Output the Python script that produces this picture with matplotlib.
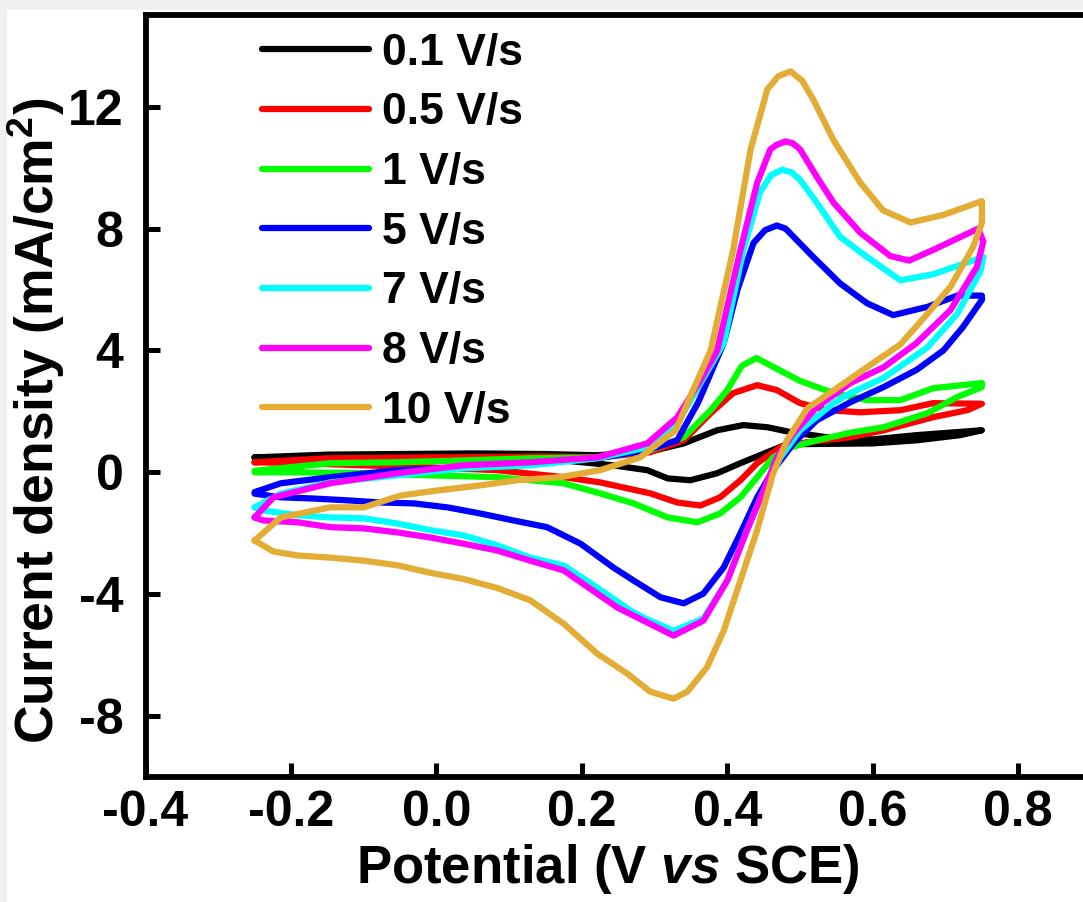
import numpy as np
import matplotlib
matplotlib.use("Agg")
import matplotlib.pyplot as plt

plt.rcParams['font.family'] = ['Liberation Sans', 'DejaVu Sans']
plt.rcParams['font.weight'] = 'bold'
plt.rcParams['axes.unicode_minus'] = False
plt.rcParams['mathtext.fontset'] = 'custom'
plt.rcParams['mathtext.rm'] = 'Liberation Sans:bold'
plt.rcParams['mathtext.bf'] = 'Liberation Sans:bold'
plt.rcParams['mathtext.it'] = 'Liberation Sans:bold:italic'

# scan rates (legend labels)
labels = ["0.1 V/s", "0.5 V/s", "1 V/s", "5 V/s", "7 V/s", "8 V/s", "10 V/s"]
colors = ["#000000", "#ff0000", "#00ff00", "#0000ff", "#00ffff", "#ff00ff", "#e3ac35"]

# 0.1 V/s : forward (anodic) then reverse (cathodic) branch
E_01_f = [-0.25, -0.15, -0.05, 0.05, 0.15, 0.22, 0.29, 0.34, 0.386, 0.422, 0.455, 0.487, 0.546, 0.6, 0.66, 0.75]
j_01_f = [0.49, 0.58, 0.6, 0.62, 0.6, 0.56, 0.66, 0.95, 1.38, 1.55, 1.48, 1.32, 1.12, 1.08, 1.22, 1.38]
E_01_r = [0.72, 0.66, 0.6, 0.52, 0.482, 0.455, 0.418, 0.386, 0.349, 0.318, 0.29, 0.243, 0.175, 0.05, -0.1, -0.25]
j_01_r = [1.22, 1.05, 0.95, 0.93, 0.92, 0.66, 0.3, -0.03, -0.26, -0.2, 0.07, 0.23, 0.39, 0.49, 0.49, 0.49]

# 0.5 V/s
E_05_f = [-0.25, -0.15, -0.05, 0.05, 0.15, 0.225, 0.294, 0.34, 0.377, 0.408, 0.441, 0.468, 0.5, 0.537, 0.583, 0.638, 0.683, 0.75]
j_05_f = [0.33, 0.46, 0.48, 0.5, 0.52, 0.49, 0.66, 1.05, 1.94, 2.6, 2.86, 2.7, 2.27, 2.04, 1.97, 2.04, 2.27, 2.25]
E_05_r = [0.73, 0.683, 0.615, 0.569, 0.51, 0.473, 0.441, 0.418, 0.39, 0.363, 0.331, 0.294, 0.225, 0.175, 0.084, -0.008, -0.1, -0.191, -0.25]
j_05_r = [2.04, 1.81, 1.38, 1.15, 0.99, 0.82, 0.3, -0.26, -0.82, -1.09, -0.99, -0.69, -0.33, -0.16, 0.07, 0.16, 0.23, 0.3, 0.33]

# 1 V/s
E_1_f = [-0.25, -0.146, -0.054, 0.037, 0.129, 0.225, 0.294, 0.34, 0.377, 0.4, 0.42, 0.44, 0.46, 0.5, 0.546, 0.592, 0.638, 0.683, 0.75]
j_1_f = [0.05, 0.3, 0.33, 0.39, 0.46, 0.49, 0.72, 1.15, 2.04, 2.7, 3.5, 3.75, 3.5, 3.0, 2.6, 2.37, 2.37, 2.76, 2.93]
E_1_r = [0.75, 0.716, 0.675, 0.615, 0.569, 0.523, 0.487, 0.463, 0.441, 0.418, 0.39, 0.359, 0.318, 0.271, 0.225, 0.175, 0.129, 0.084, -0.008, -0.1, -0.191, -0.25]
j_1_r = [2.8, 2.47, 1.94, 1.48, 1.3, 1.05, 0.82, 0.49, -0.16, -0.82, -1.35, -1.64, -1.48, -1.02, -0.69, -0.36, -0.26, -0.16, -0.1, -0.03, 0.0, 0.0]

# 5 V/s
E_5_f = [-0.25, -0.214, -0.146, -0.054, 0.037, 0.129, 0.221, 0.29, 0.331, 0.36, 0.395, 0.414, 0.436, 0.452, 0.468, 0.48, 0.491, 0.518, 0.555, 0.592, 0.628, 0.675, 0.716, 0.75]
j_5_f = [-0.65, -0.36, -0.16, 0.07, 0.16, 0.3, 0.46, 0.72, 1.05, 2.3, 4.24, 6.0, 7.53, 7.95, 8.1, 8.0, 7.73, 7.07, 6.2, 5.55, 5.16, 5.43, 5.8, 5.8]
E_5_r = [0.75, 0.724, 0.697, 0.66, 0.615, 0.569, 0.523, 0.491, 0.463, 0.441, 0.418, 0.395, 0.367, 0.34, 0.308, 0.271, 0.243, 0.198, 0.152, 0.106, 0.06, 0.015, -0.031, -0.077, -0.122, -0.169, -0.214, -0.25]
j_5_r = [5.66, 4.77, 4.0, 3.36, 2.8, 2.3, 1.71, 0.95, 0.07, -0.82, -2.0, -3.12, -3.98, -4.3, -4.1, -3.55, -3.12, -2.34, -1.8, -1.58, -1.35, -1.15, -1.02, -0.99, -0.92, -0.86, -0.82, -0.7]

# 7 V/s
E_7_f = [-0.25, -0.214, -0.146, -0.054, 0.037, 0.129, 0.221, 0.29, 0.331, 0.36, 0.395, 0.422, 0.445, 0.46, 0.475, 0.488, 0.5, 0.523, 0.555, 0.592, 0.638, 0.683, 0.752]
j_7_f = [-1.15, -0.7, -0.33, -0.1, 0.13, 0.23, 0.46, 0.82, 1.6, 2.8, 4.24, 7.3, 9.2, 9.75, 9.93, 9.85, 9.6, 8.85, 7.73, 7.07, 6.3, 6.5, 7.07]
E_7_r = [0.748, 0.716, 0.675, 0.615, 0.569, 0.546, 0.5, 0.473, 0.45, 0.427, 0.4, 0.367, 0.326, 0.285, 0.267, 0.221, 0.175, 0.129, 0.084, 0.037, -0.008, -0.054, -0.1, -0.146, -0.191, -0.238, -0.25]
j_7_r = [6.6, 5.2, 4.1, 3.1, 2.6, 2.27, 1.38, 0.49, -0.6, -1.9, -3.55, -4.8, -5.2, -4.77, -4.54, -3.78, -3.06, -2.8, -2.4, -2.07, -1.9, -1.68, -1.51, -1.48, -1.41, -1.25, -1.15]

# 8 V/s
E_8_f = [-0.25, -0.224, -0.146, -0.054, 0.037, 0.129, 0.221, 0.29, 0.331, 0.36, 0.386, 0.418, 0.441, 0.459, 0.468, 0.48, 0.49, 0.5, 0.523, 0.546, 0.583, 0.624, 0.65, 0.683, 0.745]
j_8_f = [-1.48, -0.82, -0.36, -0.03, 0.23, 0.33, 0.49, 0.95, 1.8, 2.9, 4.0, 7.3, 9.5, 10.6, 10.75, 10.86, 10.8, 10.6, 9.7, 8.85, 7.86, 7.1, 6.95, 7.3, 8.0]
E_8_r = [0.752, 0.743, 0.707, 0.66, 0.615, 0.569, 0.523, 0.491, 0.468, 0.45, 0.427, 0.4, 0.367, 0.326, 0.285, 0.249, 0.221, 0.175, 0.129, 0.084, 0.037, -0.008, -0.054, -0.1, -0.146, -0.191, -0.238, -0.25]
j_8_r = [7.57, 6.74, 5.33, 4.24, 3.45, 2.93, 2.14, 1.28, 0.49, -0.6, -1.9, -3.55, -4.87, -5.36, -4.87, -4.44, -3.98, -3.22, -2.9, -2.57, -2.34, -2.14, -1.97, -1.84, -1.8, -1.64, -1.58, -1.48]

# 10 V/s
E_10_f = [-0.25, -0.214, -0.146, -0.1, -0.049, 0.0, 0.06, 0.111, 0.17, 0.225, 0.28, 0.329, 0.353, 0.377, 0.408, 0.432, 0.455, 0.47, 0.487, 0.503, 0.518, 0.546, 0.583, 0.614, 0.652, 0.697, 0.75]
j_10_f = [-2.24, -1.48, -1.15, -1.15, -0.76, -0.6, -0.43, -0.26, -0.16, 0.07, 0.49, 1.38, 2.7, 4.0, 7.3, 10.6, 12.57, 13.0, 13.16, 12.85, 12.24, 10.9, 9.5, 8.6, 8.2, 8.45, 8.9]
E_10_r = [0.75, 0.738, 0.707, 0.675, 0.638, 0.592, 0.565, 0.51, 0.482, 0.463, 0.441, 0.418, 0.395, 0.372, 0.345, 0.326, 0.294, 0.262, 0.221, 0.175, 0.129, 0.084, 0.037, -0.008, -0.054, -0.1, -0.146, -0.191, -0.224, -0.25]
j_10_r = [8.2, 7.4, 6.1, 5.2, 4.2, 3.45, 3.0, 2.1, 1.05, -0.03, -1.9, -3.55, -5.2, -6.4, -7.2, -7.43, -7.2, -6.6, -5.95, -4.97, -4.2, -3.8, -3.5, -3.3, -3.05, -2.9, -2.8, -2.73, -2.6, -2.24]

curves = [
    (E_01_f + E_01_r, j_01_f + j_01_r),
    (E_05_f + E_05_r, j_05_f + j_05_r),
    (E_1_f + E_1_r, j_1_f + j_1_r),
    (E_5_f + E_5_r, j_5_f + j_5_r),
    (E_7_f + E_7_r, j_7_f + j_7_r),
    (E_8_f + E_8_r, j_8_f + j_8_r),
    (E_10_f + E_10_r, j_10_f + j_10_r),
]

W, H = 1083, 902
fig = plt.figure(figsize=(W / 100, H / 100), dpi=100, facecolor="#f0f0f0")
# white panel (grey strip on left and top like the screenshot)
fig.add_artist(plt.Rectangle((7 / W, 0), 1, (H - 10) / H, transform=fig.transFigure,
                             facecolor="white", edgecolor="none", zorder=0))

left, right, top, bottom = 145.5, 1091, 15.3, 777
ax = fig.add_axes([left / W, (H - bottom) / H, (right - left) / W, (bottom - top) / H])
ax.set_facecolor("white")

for (E, j), lab, c in zip(curves, labels, colors):
    ax.plot(E, j, color=c, lw=4.5, label=lab, solid_capstyle="round", solid_joinstyle="round")

ax.set_xlim(-0.4, 0.9)
ax.set_ylim(-10, 15)
ax.set_xticks([-0.4, -0.2, 0.0, 0.2, 0.4, 0.6, 0.8])
ax.set_xticklabels(["-0.4", "-0.2", "0.0", "0.2", "0.4", "0.6", "0.8"])
ax.set_yticks([-8, -4, 0, 4, 8, 12])
ax.set_yticklabels(["-8", "-4", "0", "4", "8", "12"])

for s in ax.spines.values():
    s.set_linewidth(4.2)
ax.tick_params(direction="in", length=10, width=3.6, labelsize=36, top=False, right=False)
ax.tick_params(axis="x", pad=9)
ax.tick_params(axis="y", pad=16)

ax.set_xlabel(r"Potential (V $\mathit{vs}$ SCE)", fontsize=38, fontweight="bold")
ax.xaxis.set_label_coords(0.489, -0.085)
ax.set_ylabel(r"Current density (mA/cm$^{2}$)", fontsize=38.5, fontweight="bold")
ax.yaxis.set_label_coords(-0.083, 0.468)

leg = ax.legend(loc="upper left", bbox_to_anchor=(0.1235, 0.977), frameon=False, fontsize=32,
                handlelength=2.4, handletextpad=0.3, labelspacing=0.42, borderpad=0, borderaxespad=0)

fig.savefig("out.png", dpi=100, facecolor=fig.get_facecolor())
